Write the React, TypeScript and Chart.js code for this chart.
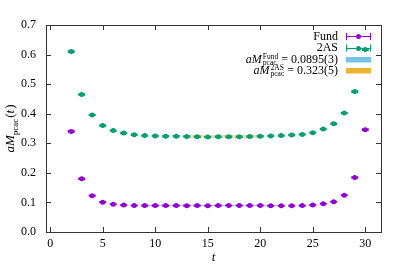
import React, { useEffect, useRef } from 'react';
import { Chart, registerables } from 'chart.js';

Chart.register(...registerables);

const T = [2, 3, 4, 5, 6, 7, 8, 9, 10, 11, 12, 13, 14, 15, 16, 17, 18, 19, 20, 21, 22, 23, 24, 25, 26, 27, 28, 29, 30];
const FUND = [0.340, 0.180, 0.123, 0.101, 0.094, 0.091, 0.0895, 0.0892, 0.0893, 0.0892, 0.0893, 0.0891, 0.0892, 0.0888, 0.0892, 0.0895, 0.0895, 0.0895, 0.0894, 0.0890, 0.0890, 0.0888, 0.0892, 0.0910, 0.0955, 0.1025, 0.1245, 0.1845, 0.346];
const FUND_ERR = [0.002, 0.0015, 0.001, 0.001, 0.001, 0.001, 0.001, 0.001, 0.001, 0.001, 0.001, 0.001, 0.001, 0.001, 0.001, 0.001, 0.001, 0.001, 0.001, 0.001, 0.001, 0.001, 0.001, 0.001, 0.001, 0.001, 0.001, 0.0015, 0.002];
const TWOAS = [0.610, 0.465, 0.396, 0.360, 0.343, 0.335, 0.329, 0.326, 0.325, 0.324, 0.324, 0.323, 0.322, 0.321, 0.322, 0.322, 0.322, 0.323, 0.324, 0.325, 0.326, 0.328, 0.330, 0.336, 0.348, 0.366, 0.402, 0.475, 0.617];
const TWOAS_ERR = [0.002, 0.002, 0.0015, 0.0015, 0.0015, 0.0015, 0.0015, 0.0015, 0.0015, 0.0015, 0.0015, 0.0015, 0.0015, 0.0015, 0.0015, 0.0015, 0.0015, 0.0015, 0.0015, 0.0015, 0.0015, 0.0015, 0.0015, 0.0015, 0.0015, 0.0015, 0.0015, 0.002, 0.002];

const X_TICKS = [0, 5, 10, 15, 20, 25, 30];
const Y_TICKS = [0, 0.1, 0.2, 0.3, 0.4, 0.5, 0.6, 0.7];

const FUND_FIT = 0.0895;
const FUND_FIT_ERR = 0.0003;
const FUND_FIT_RANGE = [9, 22];
const AS_FIT = 0.323;
const AS_FIT_ERR = 0.005;
const AS_FIT_RANGE = [13, 20];

const SERIES_LABELS = ['Fund', '2AS'];
const FIT_LABELS = [
  { sup: 'Fund', value: ' = 0.0895(3)' },
  { sup: '2AS', value: ' = 0.323(5)' },
];

const PURPLE = '#9400d3';
const GREEN = '#009e73';
const BLUE = 'rgba(86,180,233,0.8)';
const ORANGE = 'rgba(230,159,0,0.8)';
const BLUE_BAND = 'rgba(86,180,233,0.45)';
const ORANGE_BAND = 'rgba(230,159,0,0.35)';
const AXIS = '#333333';
const SERIF = '"Liberation Serif", "Times New Roman", serif';

const gpPlugin = {
  id: 'gp',
  afterDatasetsDraw(chart: any) {
    const ctx = chart.ctx as CanvasRenderingContext2D;
    const xs = chart.scales.x;
    const ys = chart.scales.y;
    const ca = chart.chartArea;
    const drawErr = (vals: number[], errs: number[], color: string) => {
      ctx.save();
      ctx.strokeStyle = color;
      ctx.lineWidth = 1.5;
      for (let i = 0; i < T.length; i++) {
        const px = xs.getPixelForValue(T[i]);
        const y1 = ys.getPixelForValue(vals[i] + errs[i]);
        const y2 = ys.getPixelForValue(vals[i] - errs[i]);
        ctx.beginPath();
        ctx.moveTo(px, y1); ctx.lineTo(px, y2);
        ctx.moveTo(px - 3.5, y1); ctx.lineTo(px + 3.5, y1);
        ctx.moveTo(px - 3.5, y2); ctx.lineTo(px + 3.5, y2);
        ctx.stroke();
      }
      ctx.restore();
    };
    drawErr(FUND, FUND_ERR, PURPLE);
    drawErr(TWOAS, TWOAS_ERR, GREEN);

    ctx.save();
    ctx.strokeStyle = AXIS;
    ctx.lineWidth = 1;
    ctx.strokeRect(Math.round(ca.left) + 0.5, Math.round(ca.top) + 0.5, Math.round(ca.right - ca.left), Math.round(ca.bottom - ca.top));
    ctx.beginPath();
    for (const v of X_TICKS) {
      const px = Math.round(xs.getPixelForValue(v)) + 0.5;
      ctx.moveTo(px, ca.bottom); ctx.lineTo(px, ca.bottom - 5);
      ctx.moveTo(px, ca.top); ctx.lineTo(px, ca.top + 5);
    }
    for (const v of Y_TICKS) {
      const py = Math.round(ys.getPixelForValue(v)) + 0.5;
      ctx.moveTo(ca.left, py); ctx.lineTo(ca.left + 5, py);
      ctx.moveTo(ca.right, py); ctx.lineTo(ca.right - 5, py);
    }
    ctx.stroke();
    ctx.restore();

    ctx.save();
    ctx.fillStyle = '#000';
    ctx.textBaseline = 'alphabetic';
    ctx.font = `italic 13px ${SERIF}`;
    ctx.textAlign = 'center';
    ctx.fillText('t', (ca.left + ca.right) / 2, 261);
    ctx.translate(14, (ca.top + ca.bottom) / 2);
    ctx.rotate(-Math.PI / 2);
    ctx.textAlign = 'left';
    const fBig = `italic 13px ${SERIF}`;
    const fSub = `9px ${SERIF}`;
    const fUp = `13px ${SERIF}`;
    ctx.font = fBig; const wA = ctx.measureText('aM').width;
    ctx.font = fSub; const wS = ctx.measureText('pcac').width;
    ctx.font = fUp; const wP1 = ctx.measureText('(').width;
    ctx.font = fBig; const wT = ctx.measureText('t').width;
    ctx.font = fUp; const wP2 = ctx.measureText(')').width;
    const total = wA + wS + 1 + wP1 + wT + wP2 + 1;
    let x = -total / 2;
    ctx.font = fBig; ctx.fillText('aM', x, 0); x += wA;
    ctx.font = fSub; ctx.fillText('pcac', x, 3.5); x += wS + 1;
    ctx.font = fUp; ctx.fillText('(', x, 0); x += wP1;
    ctx.font = fBig; ctx.fillText('t', x, 0); x += wT + 1;
    ctx.font = fUp; ctx.fillText(')', x, 0);
    ctx.restore();

    ctx.save();
    const textRight = 338;
    const sx1 = 346, sx2 = 371;
    const rows = [36, 47.5, 59.5, 70.5];
    ctx.fillStyle = '#000';
    ctx.textBaseline = 'middle';
    ctx.textAlign = 'right';
    ctx.font = `12px ${SERIF}`;
    const colors = [PURPLE, GREEN];
    SERIES_LABELS.forEach((lab, i) => {
      const y = rows[i];
      ctx.fillStyle = '#000';
      ctx.fillText(lab, textRight, y + 0.5);
      ctx.strokeStyle = colors[i];
      ctx.lineWidth = 1;
      ctx.beginPath();
      ctx.moveTo(sx1, Math.round(y) + 0.5); ctx.lineTo(sx2, Math.round(y) + 0.5);
      ctx.moveTo(sx1 + 0.5, y - 3); ctx.lineTo(sx1 + 0.5, y + 4);
      ctx.moveTo(sx2 - 0.5, y - 3); ctx.lineTo(sx2 - 0.5, y + 4);
      ctx.stroke();
      ctx.fillStyle = colors[i];
      ctx.beginPath();
      ctx.arc((sx1 + sx2) / 2, Math.round(y) + 0.5, 2.5, 0, Math.PI * 2);
      ctx.fill();
    });
    const bandColors = [BLUE, ORANGE];
    FIT_LABELS.forEach((lab, i) => {
      const y = rows[i + 2];
      ctx.textAlign = 'left';
      ctx.textBaseline = 'alphabetic';
      const fI = `italic 12px ${SERIF}`;
      const fS = `7.5px ${SERIF}`;
      const fN = `12px ${SERIF}`;
      ctx.font = fI; const wa = ctx.measureText('aM').width;
      ctx.font = fS; const ws = Math.max(ctx.measureText(lab.sup).width, ctx.measureText('pcac').width);
      ctx.font = fN; const wv = ctx.measureText(lab.value).width;
      let x0 = textRight - (wa + 1 + ws + wv);
      const base = y + 3.5;
      ctx.fillStyle = '#000';
      ctx.font = fI; ctx.fillText('aM', x0, base); x0 += wa + 1;
      ctx.font = fS; ctx.fillText(lab.sup, x0, base - 4.5); ctx.fillText('pcac', x0, base + 2); x0 += ws;
      ctx.font = fN; ctx.fillText(lab.value, x0, base);
      ctx.fillStyle = bandColors[i];
      ctx.fillRect(sx1, y - 2.5, sx2 - sx1, 5.5);
    });
    ctx.restore();
  },
};

export default function App() {
  const ref = useRef<HTMLCanvasElement | null>(null);
  useEffect(() => {
    document.body.style.margin = '0';
    const canvas = ref.current!;
    const pts = (vals: number[]) => T.map((t, i) => ({ x: t, y: vals[i] }));
    const band = (range: number[], y: number) => range.map((x) => ({ x, y }));
    const chart = new Chart(canvas, {
      type: 'scatter',
      data: {
        datasets: [
          {
            type: 'line', data: band(FUND_FIT_RANGE, FUND_FIT + FUND_FIT_ERR), borderColor: BLUE_BAND, borderWidth: 1,
            pointRadius: 0, fill: false, order: 3,
          } as any,
          {
            type: 'line', data: band(FUND_FIT_RANGE, FUND_FIT - FUND_FIT_ERR), borderColor: BLUE_BAND, borderWidth: 1,
            backgroundColor: BLUE_BAND, pointRadius: 0, fill: '-1', order: 3,
          } as any,
          {
            type: 'line', data: band(AS_FIT_RANGE, AS_FIT + AS_FIT_ERR), borderColor: ORANGE_BAND, borderWidth: 0,
            pointRadius: 0, fill: false, order: 3,
          } as any,
          {
            type: 'line', data: band(AS_FIT_RANGE, AS_FIT - AS_FIT_ERR), borderColor: ORANGE_BAND, borderWidth: 0,
            backgroundColor: ORANGE_BAND, pointRadius: 0, fill: '-1', order: 3,
          } as any,
          {
            label: SERIES_LABELS[0], data: pts(FUND), pointRadius: 2.5, pointBackgroundColor: PURPLE,
            pointBorderWidth: 0, backgroundColor: PURPLE, borderColor: PURPLE, order: 1,
          },
          {
            label: SERIES_LABELS[1], data: pts(TWOAS), pointRadius: 2.5, pointBackgroundColor: GREEN,
            pointBorderWidth: 0, backgroundColor: GREEN, borderColor: GREEN, order: 1,
          },
        ],
      },
      options: {
        responsive: false,
        animation: false,
        events: [],
        layout: { padding: { top: 25, right: 18, left: 0, bottom: 0 } },
        plugins: { legend: { display: false }, tooltip: { enabled: false } },
        scales: {
          x: {
            type: 'linear', min: -0.4, max: 31.5,
            grid: { display: false, drawTicks: false },
            border: { display: false },
            afterBuildTicks: (s: any) => { s.ticks = X_TICKS.map((v) => ({ value: v })); },
            afterFit: (s: any) => { s.height = 45; },
            ticks: { color: '#000', font: { family: SERIF, size: 12 }, padding: 5, maxRotation: 0, callback: (v: any) => String(v) },
          },
          y: {
            type: 'linear', min: 0, max: 0.7,
            grid: { display: false, drawTicks: false },
            border: { display: false },
            afterBuildTicks: (s: any) => { s.ticks = Y_TICKS.map((v) => ({ value: v })); },
            afterFit: (s: any) => { s.width = 46; },
            ticks: { color: '#000', font: { family: SERIF, size: 12 }, padding: 10, callback: (v: any) => Number(v).toFixed(1) },
          },
        },
      },
      plugins: [gpPlugin],
    });
    return () => chart.destroy();
  }, []);
  return (
    <div style={{ width: 399, height: 277 }}>
      <canvas ref={ref} width={399} height={277} />
    </div>
  );
}
